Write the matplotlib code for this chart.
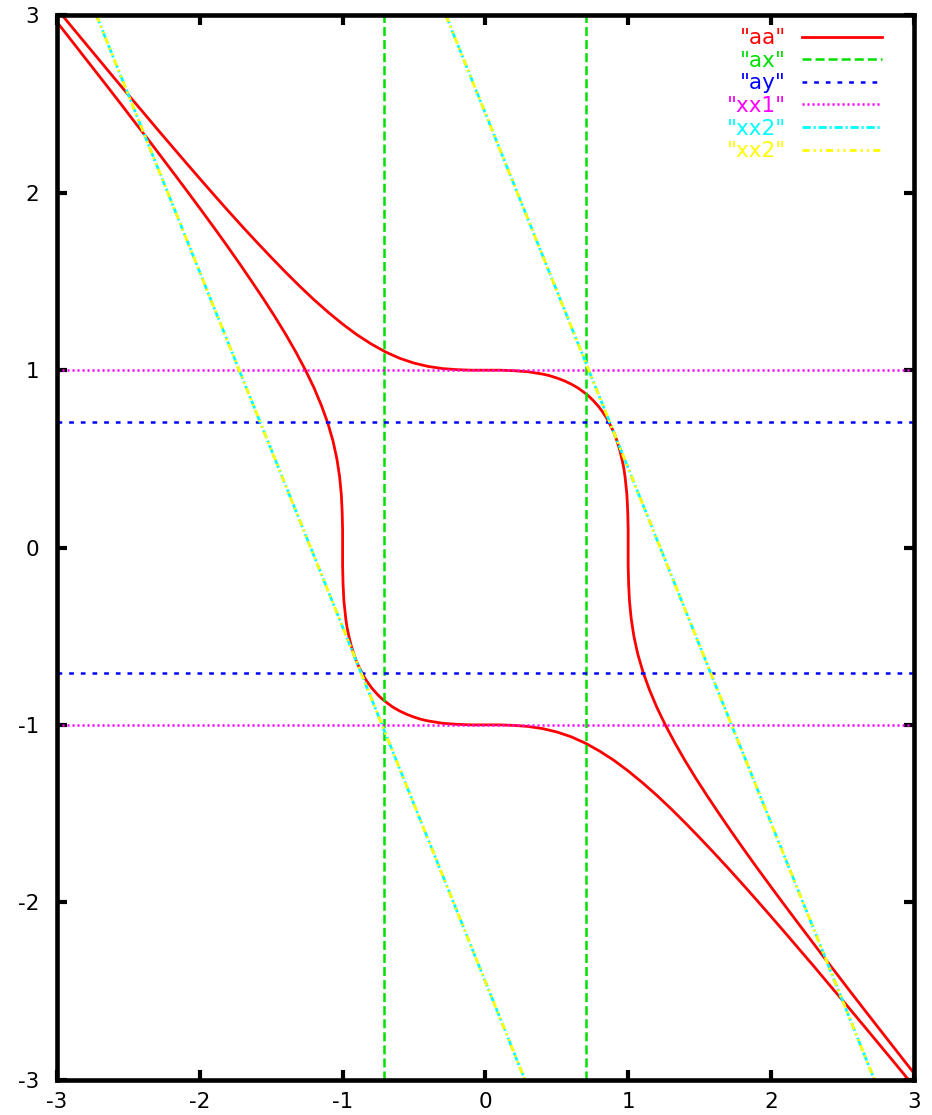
import numpy as np
import matplotlib
matplotlib.use("Agg")
import matplotlib.pyplot as plt

# "aa": two branches (upper/right one and lower/left one)
aa1_x = [-3.0, -2.9, -2.8, -2.7, -2.6, -2.5, -2.4, -2.3, -2.2, -2.1, -2.0,
         -1.9, -1.8, -1.7, -1.6, -1.5, -1.4, -1.3, -1.2, -1.1, -1.0, -0.9,
         -0.8, -0.7, -0.6, -0.5, -0.4, -0.3, -0.2, -0.1, 0.0, 0.1, 0.2, 0.3,
         0.4, 0.45, 0.5, 0.55, 0.6, 0.65, 0.7, 0.73, 0.76, 0.794,
         0.825, 0.849, 0.869, 0.899, 0.922, 0.941, 0.956, 0.969, 0.978, 0.991,
         0.997, 1.0, 1.0, 1.0, 1.003, 1.009, 1.021, 1.04, 1.067, 1.103, 1.148,
         1.2, 1.26, 1.326, 1.397, 1.473, 1.553, 1.636, 1.721, 1.808, 1.897,
         1.988, 2.08, 2.173, 2.267, 2.361, 2.457, 2.552, 2.648, 2.745, 2.842,
         2.939, 3.037]
aa1_y = [3.037, 2.939, 2.842, 2.745, 2.648, 2.552, 2.457, 2.361, 2.267, 2.173,
         2.08, 1.988, 1.897, 1.808, 1.721, 1.636, 1.553, 1.473, 1.397, 1.326,
         1.26, 1.2, 1.148, 1.103, 1.067, 1.04, 1.021, 1.009, 1.003, 1.0, 1.0,
         1.0, 0.997, 0.991, 0.978, 0.969, 0.956, 0.941, 0.922, 0.899, 0.869,
         0.849, 0.825, 0.794,
         0.76, 0.73, 0.7, 0.65, 0.6, 0.55, 0.5, 0.45, 0.4, 0.3, 0.2, 0.1, 0.0,
         -0.1, -0.2, -0.3, -0.4, -0.5, -0.6, -0.7, -0.8, -0.9, -1.0, -1.1,
         -1.2, -1.3, -1.4, -1.5, -1.6, -1.7, -1.8, -1.9, -2.0, -2.1, -2.2,
         -2.3, -2.4, -2.5, -2.6, -2.7, -2.8, -2.9, -3.0]
aa2_x = [3.0, 2.9, 2.8, 2.7, 2.6, 2.5, 2.4, 2.3, 2.2, 2.1, 2.0,
         1.9, 1.8, 1.7, 1.6, 1.5, 1.4, 1.3, 1.2, 1.1, 1.0, 0.9,
         0.8, 0.7, 0.6, 0.5, 0.4, 0.3, 0.2, 0.1, 0.0, -0.1, -0.2, -0.3,
         -0.4, -0.45, -0.5, -0.55, -0.6, -0.65, -0.7, -0.73, -0.76, -0.794,
         -0.825, -0.849, -0.869, -0.899, -0.922, -0.941, -0.956, -0.969, -0.978, -0.991,
         -0.997, -1.0, -1.0, -1.0, -1.003, -1.009, -1.021, -1.04, -1.067, -1.103, -1.148,
         -1.2, -1.26, -1.326, -1.397, -1.473, -1.553, -1.636, -1.721, -1.808, -1.897,
         -1.988, -2.08, -2.173, -2.267, -2.361, -2.457, -2.552, -2.648, -2.745, -2.842,
         -2.939, -3.037]
aa2_y = [-3.037, -2.939, -2.842, -2.745, -2.648, -2.552, -2.457, -2.361, -2.267, -2.173,
         -2.08, -1.988, -1.897, -1.808, -1.721, -1.636, -1.553, -1.473, -1.397, -1.326,
         -1.26, -1.2, -1.148, -1.103, -1.067, -1.04, -1.021, -1.009, -1.003, -1.0, -1.0,
         -1.0, -0.997, -0.991, -0.978, -0.969, -0.956, -0.941, -0.922, -0.899, -0.869,
         -0.849, -0.825, -0.794,
         -0.76, -0.73, -0.7, -0.65, -0.6, -0.55, -0.5, -0.45, -0.4, -0.3, -0.2, -0.1, 0.0,
         0.1, 0.2, 0.3, 0.4, 0.5, 0.6, 0.7, 0.8, 0.9, 1.0, 1.1,
         1.2, 1.3, 1.4, 1.5, 1.6, 1.7, 1.8, 1.9, 2.0, 2.1, 2.2,
         2.3, 2.4, 2.5, 2.6, 2.7, 2.8, 2.9, 3.0]

ax_pos = [-0.707, 0.707]      # vertical lines
ay_pos = [-0.707, 0.707]      # horizontal lines
xx1_pos = [-1.0, 1.0]         # horizontal lines
# slanted lines: end points at top and bottom border
xx2_x = [[-2.724, 0.276], [-0.276, 2.724]]
xx2_y = [[3.0, -3.0], [3.0, -3.0]]

ticks = [-3, -2, -1, 0, 1, 2, 3]

plt.rcParams["font.family"] = ["DejaVu Sans"]
plt.rcParams["axes.unicode_minus"] = False
plt.rcParams["lines.scale_dashes"] = False


def joined(parts):
    out = []
    for p in parts:
        out.extend(p)
        out.append(np.nan)
    return out[:-1]


fig = plt.figure(figsize=(9.32, 11.15), dpi=100)
ax = fig.add_axes([0.0612, 0.0318, 0.9192, 0.9543])

ax.plot(joined([aa1_x, aa2_x]), joined([aa1_y, aa2_y]),
        color="#ff0000", lw=2.0, label='"aa"')

vx = joined([[p, p] for p in ax_pos])
vy = joined([[-3, 3] for p in ax_pos])
ax.plot(vx, vy, color="#00e000", lw=1.8, dashes=(6.5, 2.9), label='"ax"')

hx = joined([[-3, 3] for p in ay_pos])
hy = joined([[p, p] for p in ay_pos])
ax.plot(hx, hy, color="#0000ff", lw=1.8, dashes=(3.4, 5.0), label='"ay"')

hx1 = joined([[-3, 3] for p in xx1_pos])
hy1 = joined([[p, p] for p in xx1_pos])
ax.plot(hx1, hy1, color="#ff00ff", lw=1.8, dashes=(1.5, 2.1), label='"xx1"')

ax.plot(joined(xx2_x), joined(xx2_y), color="#00ffff", lw=2.0,
        dashes=(6.0, 2.0, 1.5, 2.0), label='"xx2"')
ax.plot(joined(xx2_x), joined(xx2_y), color="#ffff00", lw=2.0,
        dashes=(5.0, 3.0, 1.5, 3.0, 1.5, 3.0), label='"xx2"')

ax.set_xlim(-3, 3)
ax.set_ylim(-3, 3)
ax.set_xticks(ticks)
ax.set_yticks(ticks)
ax.set_xticklabels([str(t) for t in ticks])
ax.set_yticklabels([str(t) for t in ticks])
ax.tick_params(direction="in", length=7.5, width=3, labelsize=15.5,
               top=True, right=True)
ax.tick_params(axis="x", pad=9)
ax.tick_params(axis="y", pad=13)
for s in ax.spines.values():
    s.set_linewidth(3.3)

leg = ax.legend(loc="upper right", bbox_to_anchor=(0.963, 0.988),
                markerfirst=False, frameon=False, fontsize=15.5,
                handlelength=3.7, handletextpad=0.75, labelspacing=0.12,
                borderaxespad=0, borderpad=0, labelcolor="linecolor")

fig.savefig("out.png", dpi=100)
